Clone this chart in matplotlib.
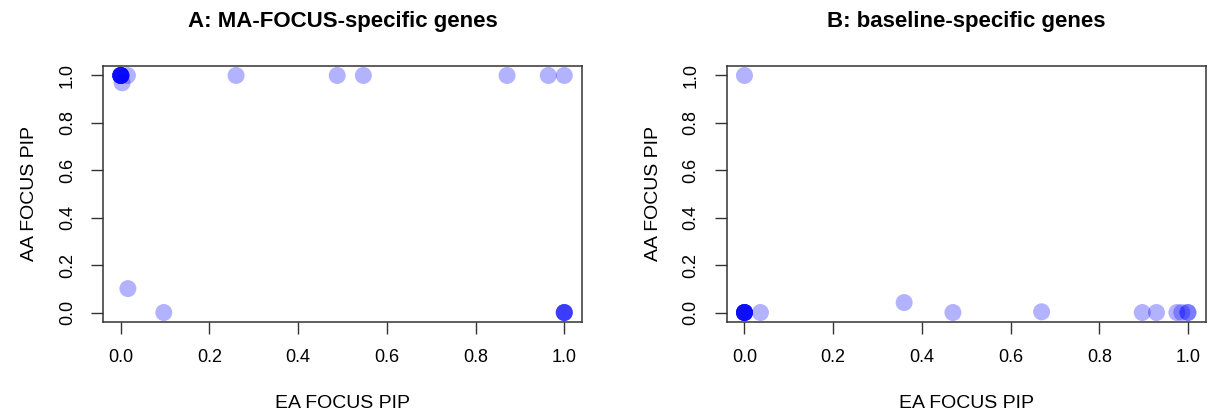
import matplotlib

matplotlib.use("Agg")
import matplotlib.pyplot as plt

# panel A: MA-FOCUS-specific genes
a_ea = [0, 0, 0, 0, 0, 0, 0, 0, 0.003, 0.015, 0.016, 0.097, 0.26, 0.488, 0.547, 0.871, 0.964, 1.0,
        1.0, 1.0, 1.0, 1.0]
a_aa = [1, 1, 1, 1, 1, 1, 1, 1, 0.969, 1.0, 0.101, 0.0, 1.0, 1.0, 1.0, 1.0, 1.0, 1.0,
        0, 0, 0, 0]

# panel B: baseline-specific genes
b_ea = [0, 0, 0, 0, 0, 0, 0, 0, 0, 0.036, 0.36, 0.47, 0.67, 0.897, 0.929, 0.975, 0.986, 1.0, 1.0]
b_aa = [1, 0, 0, 0, 0, 0, 0, 0, 0, 0.0, 0.042, 0.0, 0.003, 0.0, 0.0, 0.0, 0.0, 0.0, 0.0]

titles = ["A: MA-FOCUS-specific genes", "B: baseline-specific genes"]
ticks = [0.0, 0.2, 0.4, 0.6, 0.8, 1.0]
tick_labels = ["0.0", "0.2", "0.4", "0.6", "0.8", "1.0"]

plt.rcParams["font.family"] = ["Liberation Sans", "DejaVu Sans"]

fig = plt.figure(figsize=(12.08, 4.19), dpi=100)
axes = [
    fig.add_axes([0.0853, 0.2315, 0.3965, 0.611]),
    fig.add_axes([0.6016, 0.2315, 0.3965, 0.611]),
]

for ax, xs, ys, title in zip(axes, [a_ea, b_ea], [a_aa, b_aa], titles):
    ax.scatter(xs, ys, s=150, color=(0, 0, 1, 0.3), edgecolors="none", zorder=3)
    ax.set_xlim(-0.04, 1.04)
    ax.set_ylim(-0.04, 1.04)
    ax.set_xticks(ticks)
    ax.set_xticklabels(tick_labels)
    ax.set_yticks(ticks)
    ax.set_yticklabels(tick_labels, rotation=90, va="center")
    ax.tick_params(direction="out", length=8.6, width=1, labelsize=13, pad=11, color="#333333")
    for sp in ax.spines.values():
        sp.set_linewidth(1.1)
        sp.set_color("#333333")
    ax.set_title(title, fontsize=16, fontweight="bold", pad=28)
    ax.set_xlabel("EA FOCUS PIP", fontsize=14, labelpad=21)
    ax.set_ylabel("AA FOCUS PIP", fontsize=14, labelpad=15)

fig.savefig("out.png", dpi=100)
